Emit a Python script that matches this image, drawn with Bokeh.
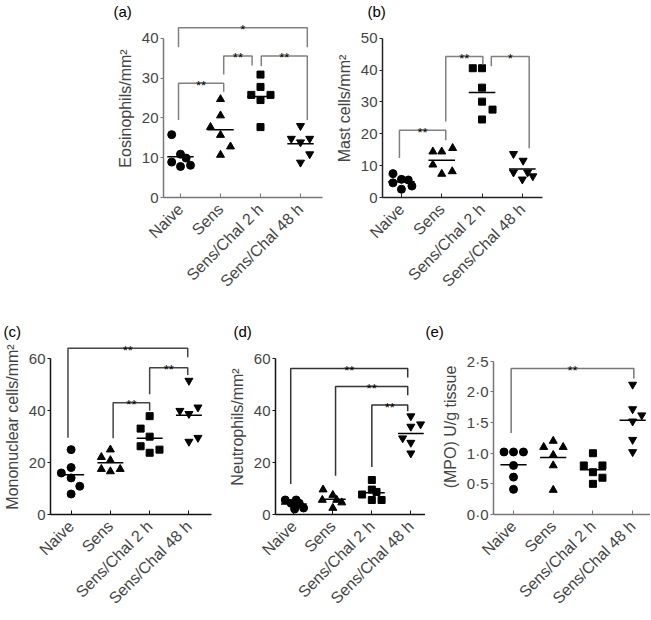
import math
import numpy as np
from bokeh.plotting import figure
from bokeh.layouts import column, row
from bokeh.models import Spacer, FixedTicker
from bokeh.embed import file_html
from bokeh.resources import INLINE
from bokeh.core.properties import value

FONT = "Liberation Sans"
groups = ["Naive", "Sens", "Sens/Chal 2 h", "Sens/Chal 48 h"]
markers = ["circle", "triangle", "square", "inverted_triangle"]

# (a) Eosinophils/mm2
eos_naive = [15.8, 10.9, 9.9, 8.9, 7.8, 8.1]
eos_sens = [24.7, 20.6, 17.7, 15.7, 12.8, 10.7]
eos_2h = [30.9, 27.8, 25.8, 25.8, 24.5, 17.7]
eos_48h = [18.0, 14.8, 13.9, 14.8, 10.9, 8.8]
eos_jit = [[-0.22, 0, 0.14, -0.22, 0, 0.25],
           [0, 0, -0.25, 0, 0.25, 0],
           [0, 0, -0.23, 0.25, 0, 0],
           [0, -0.23, 0, 0.23, 0.23, 0]]
eos_yticks = [0, 10, 20, 30, 40]

# (b) Mast cells/mm2
mast_naive = [7.5, 4.6, 5.7, 5.5, 3.6, 2.6]
mast_sens = [14.4, 14.4, 15.5, 10.3, 7.4, 8.2]
mast_2h = [40.6, 40.6, 34.5, 30.1, 27.6, 24.5]
mast_48h = [13.7, 11.6, 7.9, 7.9, 6.7, 5.7]
mast_jit = [[-0.21, -0.21, 0, 0.17, 0.26, 0],
            [-0.22, 0, 0.27, -0.22, 0, 0.26],
            [-0.23, 0, 0, 0, 0.26, 0],
            [-0.22, 0.02, -0.22, 0.13, 0.26, 0]]
mast_yticks = [0, 10, 20, 30, 40, 50]

# (c) Mononuclear cells/mm2
mono_naive = [25.0, 18.1, 16.0, 14.1, 10.9, 7.9]
mono_sens = [25.0, 22.1, 20.9, 17.5, 16.6, 17.5]
mono_2h = [37.9, 33.1, 30.0, 26.3, 23.8, 25.0]
mono_48h = [51.6, 40.0, 38.8, 41.3, 28.1, 29.6]
mono_jit = [[0, 0, -0.25, 0, 0.22, 0],
            [0, -0.23, 0, -0.23, 0, 0.25],
            [0, -0.23, 0, -0.23, 0, 0.25],
            [0, -0.23, 0, 0.23, 0, 0.23]]
mono_yticks = [0, 20, 40, 60]

# (d) Neutrophils/mm2
neut_naive = [5.6, 4.3, 5.6, 4.3, 2.1, 2.5]
neut_sens = [9.6, 7.5, 5.6, 5.6, 4.6, 2.5]
neut_2h = [13.3, 9.6, 7.7, 8.7, 5.6, 5.6]
neut_48h = [37.9, 34.8, 33.9, 29.4, 27.7, 23.6]
neut_jit = [[-0.22, -0.07, 0.06, 0.14, 0.02, 0.25],
            [-0.25, 0, -0.27, 0.1, 0.23, 0],
            [0, 0, -0.25, 0.12, 0, 0.25],
            [0, 0.25, 0, -0.21, 0, 0]]
neut_yticks = [0, 20, 40, 60]

# (e) (MPO) U/g tissue
mpo_naive = [1.02, 1.02, 1.02, 0.80, 0.61, 0.41]
mpo_sens = [1.10, 1.20, 1.10, 0.97, 0.80, 0.40]
mpo_2h = [1.00, 0.80, 0.80, 0.69, 0.60, 0.50]
mpo_48h = [2.12, 1.72, 1.62, 1.52, 1.22, 1.02]
mpo_jit = [[-0.24, 0, 0.25, 0, 0, 0],
           [-0.24, 0, 0.25, 0, 0, 0],
           [0, -0.23, 0.24, 0, 0.24, 0],
           [0, 0, 0.23, 0, 0, 0]]
mpo_yticks = [0, 0.5, 1.0, 1.5, 2.0, 2.5]
mpo_ylabels = ["0·0", "0·5", "1·0", "1·5", "2·0", "2·5"]

# significance brackets: (x left, x right, top, left leg end, right leg end, stars)
br_a = [(0.95, 2.08, 28.7, 19.5, 26.6, "**"),
        (2.08, 2.79, 35.6, 30.9, 33.2, "**"),
        (3.02, 4.17, 35.6, 33.0, 19.5, "**"),
        (0.95, 4.17, 42.7, 37.8, 37.8, "*")]
br_b = [(0.95, 2.10, 21.1, 12.4, 18.0, "**"),
        (2.10, 3.02, 44.3, 23.9, 41.8, "**"),
        (3.23, 4.17, 44.3, 41.2, 15.5, "*")]
br_c = [(0.92, 3.97, 64.1, 29.6, 60.6, "**"),
        (3.00, 3.97, 56.6, 46.3, 53.8, "**"),
        (2.07, 3.00, 43.1, 29.4, 40.0, "**")]
br_d = [(0.92, 3.92, 56.3, 11.8, 52.8, "**"),
        (2.07, 3.92, 49.3, 14.9, 46.0, "**"),
        (3.00, 3.92, 42.2, 18.3, 39.8, "**")]
br_e = [(0.94, 4.03, 2.38, 1.33, 2.22, "**")]


def make_panel(tag, series, jit, yticks, ylabel, brackets, ytop, frame,
               axis_color, br_color, tag_offset, ylab_over=None):
    L, fw, R, T, fh, B, x0, x1 = frame
    p = figure(width=L + fw + R, height=T + fh + B, title=tag,
               x_range=(x0, x1), y_range=(0, ytop),
               min_border_left=L, min_border_right=R,
               min_border_top=T, min_border_bottom=B,
               output_backend="svg", toolbar_location=None)
    p.title.align = "left"
    p.title.offset = tag_offset
    p.title.standoff = 0
    p.title.text_font = FONT
    p.title.text_font_size = "15px"
    p.title.text_font_style = "normal"
    p.title.text_color = "black"
    p.outline_line_color = None
    p.grid.visible = False
    p.background_fill_color = "white"
    p.border_fill_color = "white"

    for i, vals in enumerate(series):
        xs = [i + 1 + j for j in jit[i]]
        sz = 7 if markers[i] == "square" else 8
        p.scatter(xs, vals, marker=markers[i], size=sz,
                  fill_color="black", line_color="black")
        m = float(np.mean(vals))
        p.segment(x0=[i + 1 - 0.33], y0=[m], x1=[i + 1 + 0.33], y1=[m],
                  line_color="black", line_width=1.5)

    for (xl, xr, top, yl, yr, s) in brackets:
        p.line([xl, xl, xr, xr], [yl, top, top, yr],
               line_color=br_color, line_width=1.5)
        p.text(x=[(xl + xr) / 2], y=[top], text=[s], y_offset=2,
               text_font=value(FONT), text_font_size=value("13px"),
               text_align="center", text_baseline="alphabetic",
               text_color="#000000")

    ya = p.yaxis[0]
    ya.ticker = FixedTicker(ticks=yticks)
    ya.bounds = (yticks[0], yticks[-1])
    ya.axis_label = ylabel
    ya.axis_label_text_font = FONT
    ya.axis_label_text_font_size = "16px"
    ya.axis_label_text_font_style = "normal"
    ya.axis_label_standoff = 5
    ya.major_label_text_font = FONT
    ya.major_label_text_font_size = "15px"
    ya.major_label_standoff = 2
    ya.major_tick_out = 3
    ya.major_tick_in = 0
    ya.minor_tick_out = 0
    ya.minor_tick_in = 0
    ya.axis_line_color = axis_color
    ya.major_tick_line_color = axis_color
    ya.axis_line_width = 1.5
    if ylab_over:
        ya.major_label_overrides = ylab_over

    xa = p.xaxis[0]
    xa.ticker = FixedTicker(ticks=[1, 2, 3, 4])
    xa.major_label_overrides = {i + 1: g for i, g in enumerate(groups)}
    xa.major_label_orientation = math.pi / 4
    xa.major_label_text_font = FONT
    xa.major_label_text_font_size = "16px"
    xa.major_label_standoff = 9
    xa.major_tick_in = 4
    xa.major_tick_out = 0
    xa.minor_tick_in = 0
    xa.minor_tick_out = 0
    xa.axis_line_color = axis_color
    xa.major_tick_line_color = axis_color
    xa.axis_line_width = 1.5
    return p


pa = make_panel("(a)", [eos_naive, eos_sens, eos_2h, eos_48h], eos_jit,
                eos_yticks, "Eosinophils/mm²", br_a, 44.75,
                (55, 159, 10, 18, 179, 123, 0.575, 4.55), "#777777", "#808080",
                tag_offset=-50)
pb = make_panel("(b)", [mast_naive, mast_sens, mast_2h, mast_48h], mast_jit,
                mast_yticks, "Mast cells/mm²", br_b, 55.9,
                (50, 160, 10, 18, 179, 123, 0.53, 4.5), "#222222", "#808080",
                tag_offset=-15)
pc = make_panel("(c)", [mono_naive, mono_sens, mono_2h, mono_48h], mono_jit,
                mono_yticks, "Mononuclear cells/mm²", br_c, 67.45,
                (47, 164, 14, 17, 181, 101, 0.475, 4.575), "#111111", "#444444",
                tag_offset=-47)
pd_ = make_panel("(d)", [neut_naive, neut_sens, neut_2h, neut_48h], neut_jit,
                 neut_yticks, "Neutrophils/mm²", br_d, 67.45,
                 (45, 155, 0, 17, 181, 101, 0.53, 4.376), "#111111", "#333333",
                 tag_offset=-42)
pe = make_panel("(e)", [mpo_naive, mpo_sens, mpo_2h, mpo_48h], mpo_jit,
                mpo_yticks, "(MPO) U/g tissue", br_e, 2.855,
                (68, 157, 0, 17, 177, 105, 0.496, 4.45), "#777777", "#777777",
                tag_offset=-68,
                ylab_over={t: l for t, l in zip(mpo_yticks, mpo_ylabels)})

layout = column(row(Spacer(width=108, height=320), pa, pb),
                row(pc, pd_, pe))

open("out.html", "w").write(file_html(layout, INLINE))
